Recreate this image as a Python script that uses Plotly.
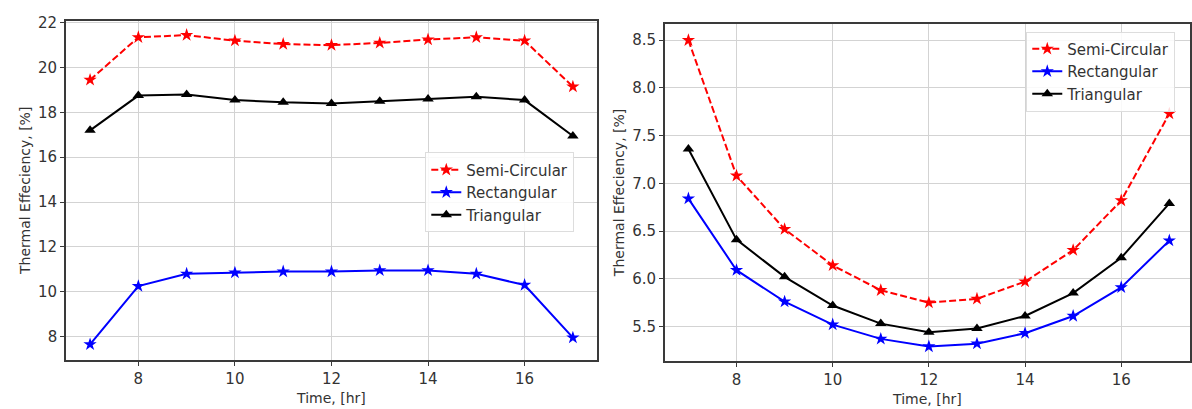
import plotly.graph_objects as go

hours = [7, 8, 9, 10, 11, 12, 13, 14, 15, 16, 17]

left_semi = [19.45, 21.35, 21.45, 21.2, 21.05, 21.0, 21.1, 21.25, 21.35, 21.2, 19.15]
left_rect = [7.65, 10.25, 10.8, 10.85, 10.9, 10.9, 10.95, 10.95, 10.8, 10.3, 7.95]
left_tri = [17.2, 18.75, 18.8, 18.55, 18.45, 18.4, 18.5, 18.6, 18.7, 18.55, 16.95]

right_semi = [8.5, 7.08, 6.52, 6.14, 5.88, 5.75, 5.79, 5.97, 6.30, 6.82, 7.73]
right_rect = [6.84, 6.09, 5.76, 5.52, 5.37, 5.29, 5.32, 5.43, 5.61, 5.91, 6.40]
right_tri = [7.36, 6.41, 6.02, 5.72, 5.53, 5.44, 5.48, 5.61, 5.85, 6.22, 6.79]

names = ["Semi-Circular", "Rectangular", "Triangular"]
colors = ["#ff0000", "#0000ff", "#000000"]
dashes = ["7px,3px", "solid", "solid"]
symbols = ["star", "star", "triangle-up"]

fig = go.Figure()
font_fam = "DejaVu Sans"
txt = "#333333"

for series, xa, ya, leg in [
    ([left_semi, left_rect, left_tri], "x", "y", "legend"),
    ([right_semi, right_rect, right_tri], "x2", "y2", "legend2"),
]:
    for name, vals, c, d, s in zip(names, series, colors, dashes, symbols):
        fig.add_trace(go.Scatter(
            x=hours, y=vals, name=name, mode="lines+markers",
            line=dict(color=c, width=2, dash=d),
            marker=dict(symbol=s, size=10, color=c),
            xaxis=xa, yaxis=ya, legend=leg,
        ))

axis_common = dict(
    showline=True, mirror=True, linecolor="#3a3a3a", linewidth=1.5,
    showgrid=True, gridcolor="#d3d3d3", gridwidth=1.3,
    ticks="outside", ticklen=4, tickcolor="#3a3a3a",
    tickfont=dict(family=font_fam, size=15, color=txt),
    zeroline=False,
)

title_font = dict(family=font_fam, size=14, color=txt)

legend_common = dict(
    bgcolor="rgba(255,255,255,0.85)", bordercolor="#dddddd", borderwidth=1,
    font=dict(family=font_fam, size=15, color=txt),
    xanchor="left", yanchor="top", tracegroupgap=0,
)

fig.update_layout(
    width=1192, height=409,
    margin=dict(l=0, r=0, t=0, b=0),
    paper_bgcolor="white", plot_bgcolor="white",
    showlegend=True,
    xaxis=dict(domain=[0.0554, 0.5017], range=[6.5, 17.5], tickvals=[8, 10, 12, 14, 16],
               title=dict(text="Time, [hr]", font=title_font, standoff=7),
               anchor="y", **axis_common),
    yaxis=dict(domain=[0.1222, 0.9658], range=[6.96, 22.09], tickvals=[8, 10, 12, 14, 16, 18, 20, 22],
               title=dict(text="Thermal Effeciency, [%]", font=title_font, standoff=4),
               anchor="x", **axis_common),
    xaxis2=dict(domain=[0.5587, 1.0], range=[6.51, 17.43], tickvals=[8, 10, 12, 14, 16],
                title=dict(text="Time, [hr]", font=title_font, standoff=7),
                anchor="y2", **axis_common),
    yaxis2=dict(domain=[0.1198, 0.9577], range=[5.14, 8.67], tickvals=[5.5, 6.0, 6.5, 7.0, 7.5, 8.0, 8.5],
                tickformat=".1f",
                title=dict(text="Thermal Effeciency, [%]", font=title_font, standoff=4),
                anchor="x2", **axis_common),
    legend=dict(x=426 / 1192, y=1 - 148 / 409, **legend_common),
    legend2=dict(x=1028 / 1192, y=1 - 25 / 409, **legend_common),
)

fig.write_html("out.html")
